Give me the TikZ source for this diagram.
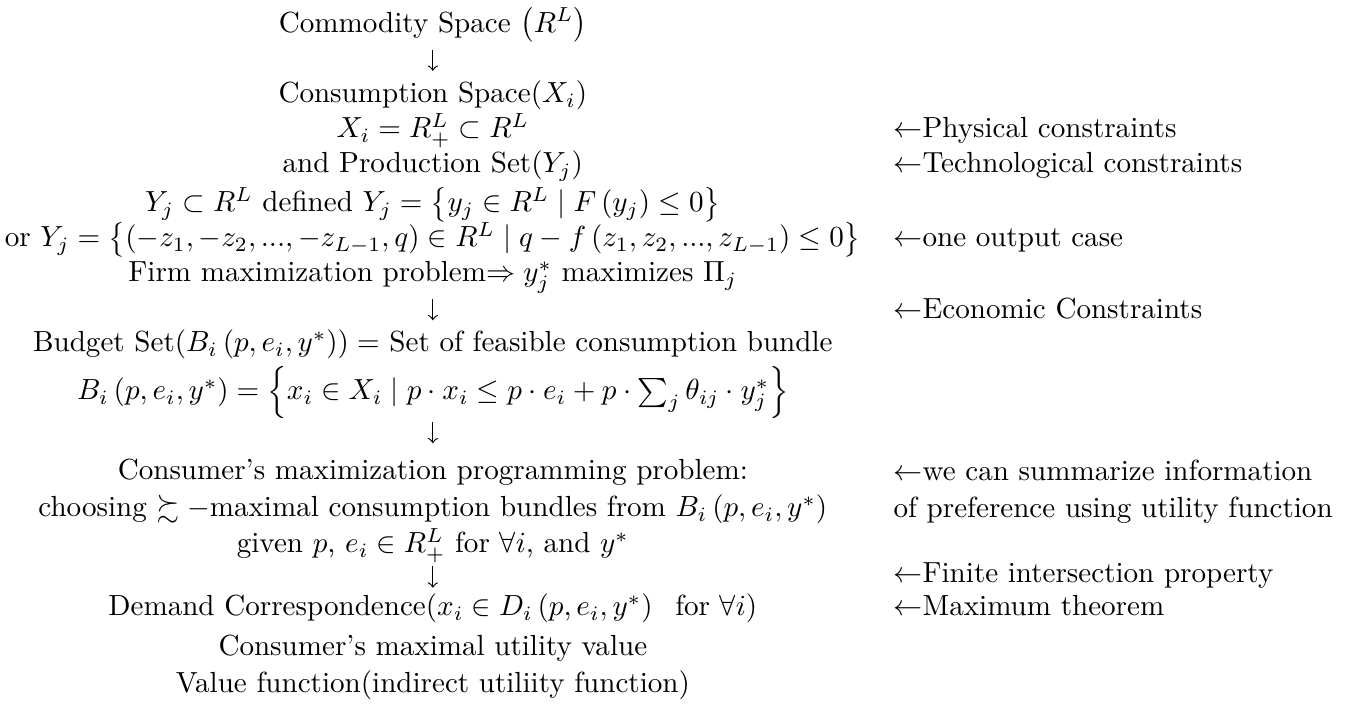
\documentclass[tikz,border=0pt]{standalone}
\usepackage{amsmath,amssymb}
\begin{document}
\begin{tikzpicture}[
    mainline/.style={anchor=base, inner sep=0pt, text height=7pt, text depth=2pt},
    note/.style={anchor=base west, inner sep=0pt},
    flow/.style={->, line width=0.4pt}
]
    \useasboundingbox (0,0) rectangle (16.30,-8.55);

    % Main chain
    \node[mainline] (commodity) at (5.23,-0.387) {Commodity Space $\left( R^{L}\right)$};
    \node[mainline] (consumption) at (5.23,-1.244) {Consumption Space$(X_{i})$};
    \node[mainline] (xdef) at (5.23,-1.667) {$X_{i}=R_{+}^{L}\subset R^{L}$};
    \node[mainline] (production) at (5.23,-2.090) {and Production Set$(Y_{j})$};
    \node[mainline] (ydef) at (5.23,-2.561) {$Y_{j}\subset R^{L}$ defined $Y_{j}=\left\{ y_{j}\in R^{L}\mid F\left( y_{j}\right) \leq 0\right\}$};
    \node[mainline] (yalt) at (5.23,-2.984) {or $Y_{j}=\left\{ \left( -z_{1},-z_{2},...,-z_{L-1},q\right) \in R^{L}\mid q-f\left( z_{1},z_{2},...,z_{L-1}\right) \leq 0\right\}$};
    \node[mainline] (firm) at (5.23,-3.407) {Firm maximization problem$\Rightarrow y_{j}^{\ast}$ maximizes $\Pi_{j}$};
    \node[mainline] (budget) at (5.23,-4.252) {Budget Set$(B_{i}\left( p,e_{i},y^{\ast}\right) )=$ Set of feasible consumption bundle};
    \node[mainline] (bdef) at (5.23,-4.832) {$B_{i}\left( p,e_{i},y^{\ast}\right) =\left\{ x_{i}\in X_{i}\mid p\cdot x_{i}\leq p\cdot e_{i}+p\cdot\sum_{j}\theta_{ij}\cdot y_{j}^{\ast}\right\}$};
    \node[mainline] (consumer) at (5.23,-5.798) {Consumer's maximization programming problem:};
    \node[mainline] (choosing) at (5.23,-6.245) {choosing $\succsim-$maximal consumption bundles from $B_{i}\left( p,e_{i},y^{\ast}\right)$};
    \node[mainline] (given) at (5.23,-6.680) {given $p$, $e_{i}\in R_{+}^{L}$ for $\forall i$, and $y^{\ast}$};
    \node[mainline] (demand) at (5.23,-7.441) {Demand Correspondence$(x_{i}\in D_{i}\left( p,e_{i},y^{\ast}\right) \;\text{ for }\forall i)$};
    \node[mainline] (maxutil) at (5.23,-7.925) {Consumer's maximal utility value};
    \node[mainline] (valuefn) at (5.23,-8.371) {Value function(indirect utiliity function)};

    % Arrows
    \draw[flow, shorten <=1.35mm, shorten >=1.35mm] (commodity) -- (consumption);
    \draw[flow, shorten <=1.29mm, shorten >=1.29mm] (firm) -- (budget);
    \draw[flow, shorten <=1.89mm, shorten >=1.89mm] (bdef) -- (consumer);
    \draw[flow, shorten <=0.87mm, shorten >=0.87mm] (given) -- (demand);

    % Remarks
    \node[note] (physical) at (10.79,-1.667) {$\leftarrow$Physical constraints};
    \node[note] (techno) at (10.79,-2.090) {$\leftarrow$Technological constraints};
    \node[note] (oneout) at (10.79,-2.984) {$\leftarrow$one output case};
    \node[note] (econ) at (10.79,-3.85) {$\leftarrow$Economic Constraints};
    \node[note, anchor=north west, align=left] (summarize) at (10.79,-5.554) {$\leftarrow$we can summarize information\\[0.7pt]of preference using utility function};
    \node[note] (finite) at (10.79,-7.04) {$\leftarrow$Finite intersection property};
    \node[note] (maxthm) at (10.79,-7.441) {$\leftarrow$Maximum theorem};
\end{tikzpicture}
\end{document}
